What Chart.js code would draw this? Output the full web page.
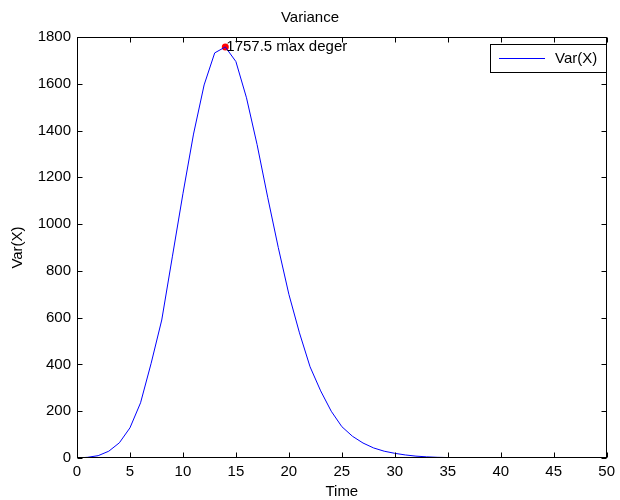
<!DOCTYPE html>
<html><head><meta charset="utf-8">
<script src="https://cdn.jsdelivr.net/npm/chart.js@4.4.1/dist/chart.umd.min.js"></script>
<style>html,body{margin:0;padding:0;background:#fff}#wrap{width:620px;height:500px}</style>
</head><body><div id="wrap"><canvas id="c" width="620" height="500"></canvas></div>
<script>
const times = [0,1,2,3,4,5,6,7,8,9,10,11,12,13,14,15,16,17,18,19,20,21,22,23,24,25,26,27,28,29,30,31,32,33,34,35,36,37,38,39,40,41,42,43,44,45,46,47,48,49,50];
const variance = [0,3,10,29,65,129,236,405,590,860,1130,1385,1595,1732,1757.5,1695,1540,1340,1115,900,700,535,390,287,200,134,93,64,43,29,20,13,8,5,3,2,1.2,0.8,0.5,0.3,0.2,0.1,0.1,0,0,0,0,0,0,0,0];
const peakTime = [14];
const peakValue = [1757.5];
const xTicks = [0,5,10,15,20,25,30,35,40,45,50];
const yTicks = [0,200,400,600,800,1000,1200,1400,1600,1800];
const chartTitle = 'Variance';
const xTitle = 'Time';
const yTitle = 'Var(X)';
const seriesName = 'Var(X)';
const peakLabel = peakValue[0] + ' max deger';

const FONT = '"Liberation Sans", Arial, sans-serif';
const FS = 15;

const decor = {
  id: 'decor',
  afterDraw(chart) {
    const ctx = chart.ctx, a = chart.chartArea, sx = chart.scales.x, sy = chart.scales.y;
    ctx.save();
    ctx.strokeStyle = '#000';
    ctx.lineWidth = 1;
    const L = Math.round(a.left) + 0.5, R = Math.round(a.right) - 0.5, T = Math.round(a.top) + 0.5, B = Math.round(a.bottom) - 0.5;
    ctx.strokeRect(L, T, R - L, B - T);
    const tl = 5;
    ctx.beginPath();
    xTicks.forEach(v => {
      const px = Math.round(sx.getPixelForValue(v)) + 0.5;
      ctx.moveTo(px, B); ctx.lineTo(px, B - tl);
      ctx.moveTo(px, T); ctx.lineTo(px, T + tl);
    });
    yTicks.forEach(v => {
      const py = Math.round(sy.getPixelForValue(v)) + 0.5;
      ctx.moveTo(L, py); ctx.lineTo(L + tl, py);
      ctx.moveTo(R, py); ctx.lineTo(R - tl, py);
    });
    ctx.stroke();
    ctx.fillStyle = '#000';
    ctx.font = FS + 'px ' + FONT;
    ctx.textAlign = 'center';
    ctx.textBaseline = 'middle';
    ctx.fillText(chartTitle, 310, 18);
    ctx.fillText(xTitle, (a.left + a.right) / 2, 492);
    ctx.save();
    ctx.translate(18, (a.top + a.bottom) / 2);
    ctx.rotate(-Math.PI / 2);
    ctx.fillText(yTitle, 0, 0);
    ctx.restore();
    // annotation
    const px = sx.getPixelForValue(peakTime[0]), py = sy.getPixelForValue(peakValue[0]);
    ctx.textAlign = 'left';
    ctx.fillText(peakLabel, px + 1, py);
    // legend
    ctx.fillStyle = '#fff';
    ctx.fillRect(490.5, 44.5, 116, 28);
    ctx.strokeStyle = '#000';
    ctx.strokeRect(490.5, 44.5, 116, 28);
    ctx.strokeStyle = '#0000ff';
    ctx.beginPath(); ctx.moveTo(499, 58.5); ctx.lineTo(545, 58.5); ctx.stroke();
    ctx.fillStyle = '#000';
    ctx.fillText(seriesName, 555, 58.5);
    ctx.restore();
  }
};

new Chart(document.getElementById('c'), {
  type: 'line',
  data: {
    datasets: [
      { label: seriesName, data: times.map((t, i) => ({ x: t, y: variance[i] })), borderColor: '#0000ff', borderWidth: 1, pointRadius: 0, tension: 0, fill: false },
      { label: 'max', data: peakTime.map((t, i) => ({ x: t, y: peakValue[i] })), borderColor: '#ff0000', backgroundColor: '#ff0000', borderWidth: 0, pointRadius: 3.5, showLine: false }
    ]
  },
  options: {
    responsive: false,
    animation: false,
    layout: { padding: { left: 0, top: 37, right: 10, bottom: 0 } },
    plugins: { legend: { display: false }, title: { display: false }, tooltip: { enabled: false } },
    scales: {
      x: {
        type: 'linear', min: 0, max: 50,
        afterBuildTicks: s => { s.ticks = xTicks.map(v => ({ value: v })); },
        afterFit: s => { s.height = 42; },
        grid: { display: false, drawTicks: false },
        border: { display: false },
        ticks: { color: '#000', font: { family: FONT, size: FS }, padding: 5, maxRotation: 0, autoSkip: false, callback: v => String(v) }
      },
      y: {
        type: 'linear', min: 0, max: 1800,
        afterBuildTicks: s => { s.ticks = yTicks.map(v => ({ value: v })); },
        afterFit: s => { s.width = 77; },
        grid: { display: false, drawTicks: false },
        border: { display: false },
        ticks: { color: '#000', font: { family: FONT, size: FS }, padding: 6, autoSkip: false, callback: v => String(v) }
      }
    }
  },
  plugins: [decor]
});
</script>
</body></html>
